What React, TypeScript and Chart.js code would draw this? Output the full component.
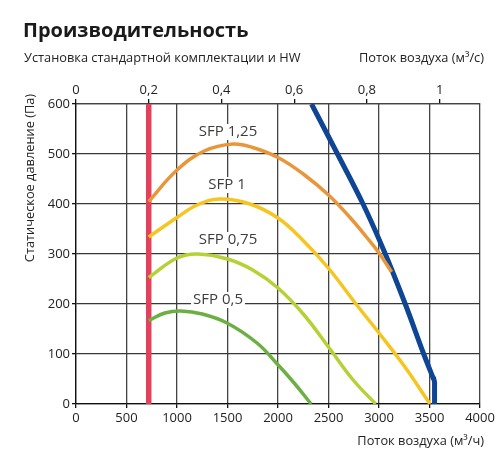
import React, { useEffect, useRef } from "react";
import { Chart, registerables } from "chart.js";

Chart.register(...registerables);

const xTicks = [0, 500, 1000, 1500, 2000, 2500, 3000, 3500, 4000];
const topTicks = [0, 0.2, 0.4, 0.6, 0.8, 1];
const yTicks = [0, 100, 200, 300, 400, 500, 600];

const redLine = [
  { x: 720, y: 0 },
  { x: 720, y: 600 },
];
const blueLine = [
  { x: 2332, y: 600 },
  { x: 2584, y: 502 },
  { x: 2842, y: 400 },
  { x: 3050, y: 306 },
  { x: 3260, y: 200 },
  { x: 3439, y: 102 },
  { x: 3540, y: 50 },
];
const blueTail = [
  { x: 3538, y: 54 },
  { x: 3550, y: 44 },
  { x: 3550, y: 0 },
];
const sfp125 = [
  { x: 720, y: 405 },
  { x: 1000, y: 468 },
  { x: 1270, y: 506 },
  { x: 1555, y: 520 },
  { x: 1750, y: 513 },
  { x: 2000, y: 493 },
  { x: 2250, y: 460 },
  { x: 2500, y: 418 },
  { x: 2713, y: 373 },
  { x: 2880, y: 333 },
  { x: 3000, y: 302 },
  { x: 3125, y: 264 },
];
const sfp1 = [
  { x: 720, y: 334 },
  { x: 1000, y: 373 },
  { x: 1200, y: 398 },
  { x: 1426, y: 410 },
  { x: 1723, y: 400 },
  { x: 2000, y: 372 },
  { x: 2234, y: 330 },
  { x: 2498, y: 272 },
  { x: 2780, y: 198 },
  { x: 3000, y: 142 },
  { x: 3250, y: 76 },
  { x: 3505, y: 0 },
];
const sfp075 = [
  { x: 720, y: 253 },
  { x: 1000, y: 292 },
  { x: 1200, y: 300 },
  { x: 1500, y: 290 },
  { x: 1750, y: 268 },
  { x: 2000, y: 232 },
  { x: 2250, y: 180 },
  { x: 2500, y: 114 },
  { x: 2740, y: 49 },
  { x: 2967, y: 0 },
];
const sfp05 = [
  { x: 720, y: 167 },
  { x: 880, y: 182 },
  { x: 1040, y: 186 },
  { x: 1250, y: 180 },
  { x: 1495, y: 162 },
  { x: 1792, y: 122 },
  { x: 1993, y: 80 },
  { x: 2160, y: 42 },
  { x: 2328, y: 0 },
];
const sfpLabels = ["SFP 1,25", "SFP 1", "SFP 0,75", "SFP 0,5"];
const sfpLabelPos = [
  { x: 1505, y: 544 },
  { x: 1495, y: 438 },
  { x: 1505, y: 328 },
  { x: 1406, y: 208 },
];

const FONT = "'Open Sans', 'Noto Sans', sans-serif";

const textPlugin = {
  id: "texts",
  afterDatasetsDraw(chart: any) {
    const ctx = chart.ctx;
    const xs = chart.scales.x;
    const ys = chart.scales.y;
    ctx.save();
    ctx.font = `15px ${FONT}`;
    ctx.textAlign = "center";
    ctx.textBaseline = "middle";
    sfpLabels.forEach((t, i) => {
      const px = xs.getPixelForValue(sfpLabelPos[i].x);
      const py = ys.getPixelForValue(sfpLabelPos[i].y);
      const w = ctx.measureText(t).width;
      ctx.fillStyle = "#ffffff";
      ctx.fillRect(px - w / 2 - 2, py - 8, w + 4, 16);
      ctx.fillStyle = "#3d3d3d";
      ctx.fillText(t, px, py);
    });
    ctx.restore();
  },
  afterDraw(chart: any) {
    const ctx = chart.ctx;
    ctx.save();
    ctx.fillStyle = "#1a1a1a";
    ctx.textBaseline = "alphabetic";
    ctx.textAlign = "left";
    ctx.font = `bold 20px ${FONT}`;
    ctx.fillText("Производительность", 23, 37);
    ctx.font = `12.8px ${FONT}`;
    ctx.fillStyle = "#222222";
    ctx.fillText("Установка стандартной комплектации и HW", 24, 62);
    ctx.textAlign = "right";
    ctx.fillText("Поток воздуха (м³/с)", 484, 62);
    ctx.fillText("Поток воздуха (м³/ч)", 484, 445);
    ctx.translate(34, 178);
    ctx.rotate(-Math.PI / 2);
    ctx.textAlign = "center";
    ctx.fillText("Статическое давление (Па)", 0, 0);
    ctx.restore();
  },
};

export default function App() {
  const ref = useRef<HTMLCanvasElement>(null);
  useEffect(() => {
    if (!ref.current) return;
    const line = (data: any[], color: string, width: number, tension: number) => ({
      data,
      borderColor: color,
      backgroundColor: color,
      borderWidth: width,
      pointRadius: 0,
      tension,
      fill: false,
      showLine: true,
      borderCapStyle: "butt" as const,
      borderJoinStyle: "round" as const,
      xAxisID: "x",
      yAxisID: "y",
    });
    const chart = new Chart(ref.current, {
      type: "scatter",
      data: {
        datasets: [
          line(sfp05, "#6cb043", 3.5, 0.4),
          line(sfp075, "#b4d236", 3.5, 0.4),
          line(sfp1, "#f6c51f", 3.5, 0.4),
          line(sfp125, "#e9963b", 3.5, 0.4),
          line(blueLine, "#0f4595", 5, 0.35),
          line(blueTail, "#0f4595", 5, 0),
          line(redLine, "#e2405b", 5.5, 0),
        ],
      },
      plugins: [textPlugin],
      options: {
        animation: false,
        responsive: false,
        devicePixelRatio: 1,
        layout: { padding: { left: 0, right: 20, top: 0, bottom: 0 } },
        plugins: { legend: { display: false }, tooltip: { enabled: false } },
        scales: {
          x: {
            type: "linear",
            position: "bottom",
            min: 0,
            max: 4000,
            afterFit: (s: any) => {
              s.height = 53;
            },
            afterBuildTicks: (s: any) => {
              s.ticks = xTicks.map((v) => ({ value: v }));
            },
            grid: { color: "#444", lineWidth: 1.3, tickLength: 4, tickColor: "#111" },
            border: { color: "#111", width: 1.3 },
            ticks: {
              color: "#222",
              font: { family: FONT, size: 13 },
              padding: 2,
              maxRotation: 0,
              autoSkip: false,
              callback: (v: any) => String(v),
            },
          },
          x2: {
            type: "linear",
            position: "top",
            min: 0,
            max: 4000 / 3600,
            afterFit: (s: any) => {
              s.height = 104;
            },
            afterBuildTicks: (s: any) => {
              s.ticks = topTicks.map((v) => ({ value: v }));
            },
            grid: { drawOnChartArea: false, color: "#111", tickLength: 5, lineWidth: 1.3 },
            border: { color: "#444", width: 1.3 },
            ticks: {
              color: "#222",
              font: { family: FONT, size: 13 },
              padding: 1,
              maxRotation: 0,
              autoSkip: false,
              callback: (v: any) => String(Math.round(v * 10) / 10).replace(".", ","),
            },
          },
          y: {
            type: "linear",
            position: "left",
            min: 0,
            max: 600,
            afterFit: (s: any) => {
              s.width = 76;
            },
            afterBuildTicks: (s: any) => {
              s.ticks = yTicks.map((v) => ({ value: v }));
            },
            grid: { color: "#383838", lineWidth: 1.3, tickLength: 4, tickColor: "#111" },
            border: { color: "#111", width: 1.3 },
            ticks: {
              color: "#222",
              font: { family: FONT, size: 13 },
              padding: 2,
              autoSkip: false,
              callback: (v: any) => String(v),
            },
          },
        },
      },
    });
    return () => chart.destroy();
  }, []);
  return (
    <div style={{ position: "fixed", left: 0, top: 0, width: 500, height: 457, background: "#fff" }}>
      <canvas ref={ref} width={500} height={457} style={{ width: 500, height: 457, display: "block" }} />
    </div>
  );
}
